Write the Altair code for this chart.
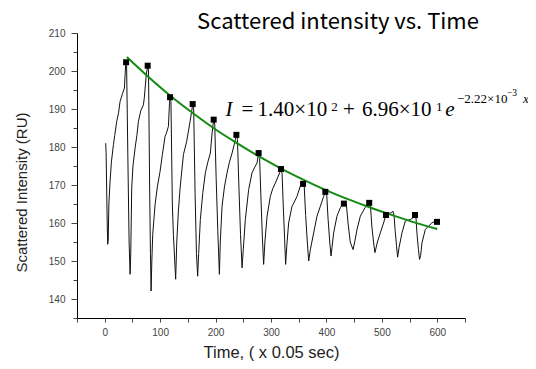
import altair as alt
import pandas as pd

# ---- data ----
trace_time = [
    1.8, 2.5, 4.5, 5.4, 6.3, 7.5, 9.7, 12, 15.7, 18, 21.6, 25, 27.7, 32, 35.5, 36.8, 38, 39.5,
    42, 44, 45.8, 47, 48.7, 51, 54.8, 58, 60.8, 65, 69.8, 71.5, 72.9, 75, 77.5, 79,
    81, 82.5, 83.7, 85, 86.6, 90.9, 95, 99.9, 104, 108.9, 111, 114.9, 116.7, 117.9, 119.5,
    122, 123.9, 128, 130, 132.9, 136, 142, 147.9, 154, 157, 158.7, 160.5,
    163, 165.5, 167.7, 169.5, 172.5, 177, 181.6, 186, 190.6, 193.7, 196.6, 198.5,
    201, 204, 206.9, 208.5, 211.7, 216, 220.7, 225, 229.8, 235.7, 237.5, 239.5,
    242, 245, 247.8, 250, 253.7, 259.7, 265.8, 270, 274.8, 277.7, 279.5,
    282, 284.5, 286.7, 289, 292.9, 298.8, 303, 307.8, 315.6, 318, 320,
    322, 324.5, 326.4, 328.5, 331.8, 337.9, 342, 346.9, 352.8, 357.8, 360,
    362.5, 365.5, 368, 371, 377, 383, 389, 395, 398, 400.5,
    403, 406, 408.3, 410, 413, 419, 425, 429, 431, 436,
    439, 443, 448, 451, 455.2, 461.2, 469.5, 474, 477.2, 479.5,
    482, 485, 487.5, 492, 497.2, 503, 507.5, 512, 516.8, 520, 522,
    524, 526.5, 528.4, 531, 536.3, 542.3, 546, 551.3, 557, 559.8, 561.5,
    563.5, 566, 568, 570, 572.4, 578.4, 584.3, 590, 596,
]
trace_intensity = [
    181, 178.5, 160, 154.4, 155.5, 165, 171, 176, 180.6, 183, 186.7, 189, 192, 194, 195.5, 199, 202.3, 201.5,
    175, 155, 146.5, 152, 169.2, 175, 179.7, 183, 186.7, 189.5, 191.1, 193, 195.5, 199, 201.4, 200,
    170, 152, 142.1, 150, 157, 164.9, 169.5, 173.6, 178, 182.8, 183.5, 185.4, 191, 193.1, 192,
    165, 157, 145.2, 155, 163.1, 169.2, 178, 181.5, 186.7, 189.5, 191.3, 190,
    168, 152, 146, 152, 160.9, 168, 173.2, 176, 178.4, 183.7, 187.2, 186,
    172, 158, 146.5, 155, 164.4, 169.5, 173.2, 176, 178.4, 181.9, 183.2, 182,
    170, 157, 148.2, 153, 160.9, 168.8, 173.2, 174.5, 175.8, 178.4, 177,
    166, 156, 149.1, 155, 161.8, 167, 169, 170.5, 173.2, 174.2, 173,
    165, 156, 149.1, 154, 160, 164.4, 165.5, 167, 169.7, 170.3, 169.5,
    162, 155, 150, 153, 157.4, 161.8, 164.4, 167, 168.2, 167.5,
    161, 155, 151.3, 153.5, 157.4, 161.8, 164, 164.8, 165.1, 164.8,
    160, 155, 153, 155, 158.3, 161.8, 164, 165, 165.3, 164.5,
    159, 155, 152.2, 155, 157.4, 160, 162.1, 162.5, 162.7, 163.1, 162,
    158, 154, 151, 153.5, 157.4, 160.5, 160.7, 160.9, 161.5, 162.1, 161.5,
    157, 153, 150.4, 151.5, 154.8, 158.3, 159.2, 160, 160.5,
]
peak_time = [38.6, 77.5, 117.9, 158.7, 196.6, 237.5, 277.7, 318, 357.8, 398,
             431.5, 477.2, 507.5, 559.8, 599.5]
peak_intensity = [202.3, 201.4, 193.1, 191.3, 187.2, 183.2, 178.4, 174.2, 170.3, 168.2,
                  165.1, 165.3, 162.1, 162.1, 160.3]
fit_time = [40, 80, 120, 160, 200, 240, 280, 320, 360, 400, 440, 480, 520, 560, 600]
fit_intensity = [203.7, 198.3, 193.3, 188.8, 184.6, 180.9, 177.4, 174.2, 171.3, 168.6,
                 166.2, 164.0, 162.0, 160.1, 158.4]

x_domain = [-50, 650]
y_domain = [135, 210]
x_ticks = list(range(-50, 651, 50))
y_ticks = list(range(135, 211, 5))

title_text = "Scattered intensity vs. Time"
x_title = "Time,  ( x 0.05 sec)"
y_title = "Scattered Intensity (RU)"

trace_df = pd.DataFrame({"t": trace_time, "v": trace_intensity})
peak_df = pd.DataFrame({"t": peak_time, "v": peak_intensity})
fit_df = pd.DataFrame({"t": fit_time, "v": fit_intensity})

xscale = alt.Scale(domain=x_domain, nice=False, zero=False)
yscale = alt.Scale(domain=y_domain, nice=False, zero=False)

x_axis = alt.Axis(
    values=x_ticks,
    labelExpr="(datum.value % 100 == 0 && datum.value >= 0 && datum.value <= 600) ? datum.label : ''",
    title=x_title, tickSize=4, labelPadding=5, labelFontSize=10,
    labelFont="Liberation Sans", labelColor="#444", labelFlush=False, labelOverlap=False,
    titleFont="Liberation Sans", titleFontSize=16.5, titleFontWeight="normal", titleColor="#222",
    titleY=39, titleBaseline="alphabetic",
    grid=False, domain=True, domainColor="#000000", domainWidth=1, tickColor="#444",
)
y_axis = alt.Axis(
    values=y_ticks,
    labelExpr="datum.value % 10 == 0 ? datum.label : ''",
    title=y_title,
    tickSize={"condition": {"test": "datum.value % 10 == 0", "value": 6}, "value": 4},
    labelPadding=6, labelFontSize=10,
    labelFont="Liberation Sans", labelColor="#444", labelFlush=False, labelOverlap=False,
    titleFont="Liberation Sans", titleFontSize=15, titleFontWeight="normal", titleColor="#222",
    titleX=-56, titleY=159, titleAngle=270, titleBaseline="middle", titleAlign="center",
    grid=False, domain=True, domainColor="#000000", domainWidth=1, tickColor="#444",
)

X = alt.X("t:Q", scale=xscale, axis=x_axis)
Y = alt.Y("v:Q", scale=yscale, axis=y_axis)

trace = alt.Chart(trace_df).mark_line(color="#111", strokeWidth=1).encode(x=X, y=Y)
fit = alt.Chart(fit_df).mark_line(color="#138a13", strokeWidth=2, interpolate="monotone").encode(
    x=X, y=Y
)
peaks = alt.Chart(peak_df).mark_square(color="black", size=36, opacity=1).encode(x=X, y=Y)


def label(txt, x, y, size, font="Liberation Serif", italic=False, align="left"):
    return alt.Chart(pd.DataFrame({"s": [txt]})).mark_text(
        text=txt, font=font, fontSize=size, fontStyle="italic" if italic else "normal",
        align=align, baseline="alphabetic", color="black",
    ).encode(x=alt.value(x), y=alt.value(y))


pieces = [
    label(title_text, 261, -4.2, 22, font="Noto Sans CJK KR", align="center"),
    label("I", 152, 83.3, 21, italic=True, align="center"),
    label("=", 170.5, 83.3, 21, align="center"),
    label("1.40×10", 250.2, 83.3, 21, align="right"),
    label("2", 257.5, 78.3, 13, align="center"),
    label("+", 272, 83.3, 21, align="center"),
    label("6.96×10", 354.5, 83.3, 21, align="right"),
    label("1", 362.3, 78.3, 13, align="center"),
    label("e", 373, 83.3, 21, italic=True, align="center"),
    label("−2.22×10", 380, 70, 13, align="left"),
    label("−3", 430, 63, 9.5, align="left"),
    label("x", 446, 70, 13, italic=True, align="left"),
]

chart = alt.layer(trace, fit, peaks, *pieces).properties(
    width=388, height=285,
    padding={"left": 69, "top": 25, "right": 63, "bottom": 43},
    autosize="none", background="white",
).configure_view(stroke=None)

chart.save("out.html", embed_options={"renderer": "svg", "actions": False})
